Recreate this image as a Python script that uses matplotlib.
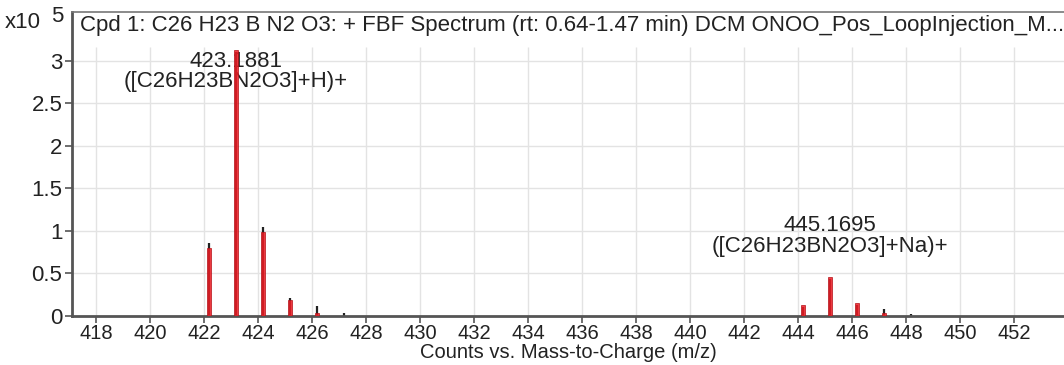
import matplotlib
matplotlib.use('Agg')
import matplotlib.pyplot as plt

plt.rcParams['font.family'] = ['Liberation Sans', 'DejaVu Sans']

# measured peaks (red bars), intensity in x10^5 counts
meas_mz = [422.18, 423.19, 424.19, 425.19, 426.19, 444.17, 445.17, 446.18, 447.19]
meas_int = [0.80, 3.12, 0.99, 0.19, 0.03, 0.13, 0.46, 0.15, 0.04]

# predicted isotope pattern (black lines)
pred_mz = [422.18, 423.19, 424.19, 425.19, 426.19, 427.20, 444.17, 445.17, 446.18, 447.19, 448.19]
pred_int = [0.86, 3.10, 1.05, 0.215, 0.115, 0.03, 0.11, 0.435, 0.13, 0.08, 0.02]

x_ticks = list(range(418, 453, 2))
y_ticks = [0, 0.5, 1, 1.5, 2, 2.5, 3]

labels = [
    (423.19, '423.1881', '([C26H23BN2O3]+H)+', 2.985, 2.75),
    (445.17, '445.1695', '([C26H23BN2O3]+Na)+', 1.06, 0.82),
]

title = 'Cpd 1: C26 H23 B N2 O3: + FBF Spectrum (rt: 0.64-1.47 min) DCM ONOO_Pos_LoopInjection_M...'

fig = plt.figure(figsize=(10.64, 3.65), dpi=100)
ax = fig.add_axes([72 / 1064, 49 / 365, 1 - 72 / 1064, 304 / 365])

ax.set_xlim(417.11, 453.85)
ax.set_ylim(0, 3.572)

# grid
for y in y_ticks[1:]:
    ax.axhline(y, color='#e3e3e3', lw=1, zorder=0)
ax.vlines(x_ticks, 0, 3.16, color='#e3e3e3', lw=1, zorder=0)

ax.vlines(pred_mz, 0, pred_int, color='#222222', lw=1.6, zorder=2)
ax.bar(meas_mz, meas_int, width=0.15, color='#ee1c24', edgecolor='#b51219',
       lw=0.6, alpha=0.85, zorder=3)

for mz, l1, l2, y1, y2 in labels:
    ax.text(mz, y1, l1, ha='center', va='center', fontsize=16, color='#222222', zorder=1)
    ax.text(mz, y2, l2, ha='center', va='center', fontsize=16, color='#222222', zorder=1)

ax.text(8 / 992, 0.955, title, transform=ax.transAxes, ha='left', va='center',
        fontsize=16, color='#222222')

ax.set_xticks(x_ticks)
ax.set_yticks(y_ticks)
ax.set_yticklabels(['0', '0.5', '1', '1.5', '2', '2.5', '3'])
ax.tick_params(axis='both', colors='#555555', labelcolor='#222222',
               length=5, width=1.2, direction='out')
ax.tick_params(axis='x', pad=1, labelsize=14.5)
ax.tick_params(axis='y', pad=2, labelsize=16)

for s in ['left', 'bottom']:
    ax.spines[s].set_color('#555555')
    ax.spines[s].set_linewidth(2)
ax.spines['top'].set_color('#777777')
ax.spines['top'].set_linewidth(1.2)
ax.spines['right'].set_visible(False)

ax.set_xlabel('Counts vs. Mass-to-Charge (m/z)', fontsize=14.5, color='#222222', labelpad=0)

fig.text(5 / 1064, 1 - 28 / 365, 'x10', fontsize=16, color='#222222', ha='left', va='baseline')
fig.text(51 / 1064, 1 - 22 / 365, '5', fontsize=16, color='#222222', ha='left', va='baseline')

fig.savefig('out.png', dpi=100)
